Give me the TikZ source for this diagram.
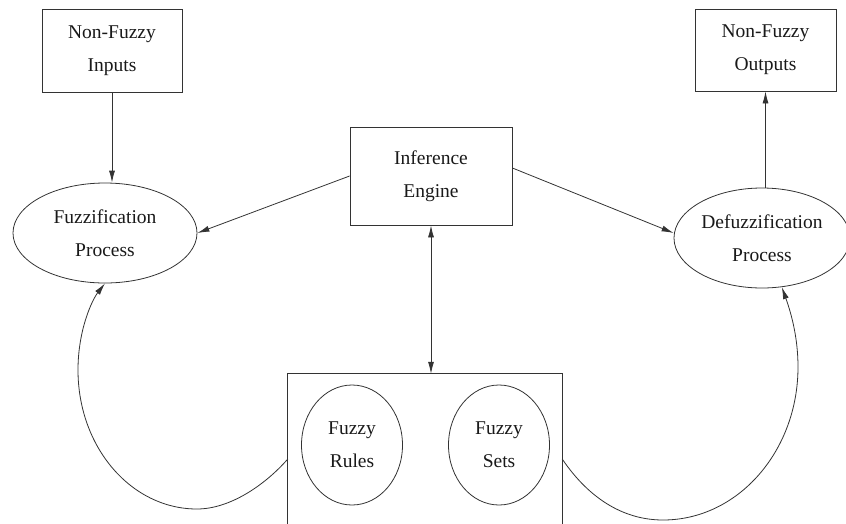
\documentclass[tikz,border=0pt]{standalone}
\usepackage{fontspec}
\setmainfont{Liberation Serif}
\usetikzlibrary{arrows.meta,shapes.geometric}
\begin{document}
\begin{tikzpicture}[x=1pt,y=-1pt,
  line/.style={draw=black!80, line width=0.8pt},
  txt/.style={align=center, font=\fontsize{19.5}{33}\selectfont, inner sep=0pt, text=black!90},
  boxnode/.style={rectangle, line, txt},
  ellnode/.style={ellipse, line, txt},
  arr/.style={line, -{Latex[length=12pt,width=6pt]}},
  darr/.style={line, {Latex[length=12pt,width=6pt]}-{Latex[length=12pt,width=6pt]}}
]
\useasboundingbox (0,0) rectangle (846,523);
\node[boxnode, minimum width=140pt, minimum height=83pt] (in) at (112,50.5) {Non-Fuzzy\\Inputs};
\node[boxnode, minimum width=141pt, minimum height=82pt] (out) at (765.5,50) {Non-Fuzzy\\Outputs};
\node[boxnode, minimum width=162pt, minimum height=98pt] (ie) at (431,176) {Inference\\Engine};
\node[ellnode, minimum width=184pt, minimum height=100pt] (fuzz) at (105,233) {Fuzzification\\Process};
\node[ellnode, minimum width=176pt, minimum height=100pt] (defuzz) at (762,238) {Defuzzification\\Process};
\node[draw=none, minimum width=274pt, minimum height=150pt, inner sep=0pt] (kb) at (425,449) {};
\node[ellnode, minimum width=101pt, minimum height=120pt] (rules) at (352,445) {Fuzzy\\Rules};
\node[ellnode, minimum width=101pt, minimum height=120pt] (sets) at (499,445) {Fuzzy\\Sets};
\draw[line] (kb.south west) -- (kb.north west) -- (kb.north east) -- (kb.south east);
\draw[arr] (in.south) -- (in.south |- fuzz.north);
\draw[arr] (out.south |- defuzz.north) -- (out.south);
\draw[arr] (ie.west) -- (fuzz.east);
\draw[arr] ([yshift=8pt]ie.east) -- ([yshift=5pt]defuzz.west);
\draw[darr] (ie.south) -- (ie.south |- kb.north);
\draw[arr] ([yshift=-10pt]kb.west) .. controls (265,485) and (230,509) .. (197,509)
  .. controls (131,509) and (78,447) .. (78,370)
  .. controls (78,330) and (92,300) .. (fuzz.south);
\draw[arr] ([yshift=-10pt]kb.east) .. controls (590,500) and (625,520) .. (663,520)
  .. controls (738,520) and (798,451) .. (798,367)
  .. controls (798,335) and (790,310) .. (defuzz.-68);
\end{tikzpicture}
\end{document}
